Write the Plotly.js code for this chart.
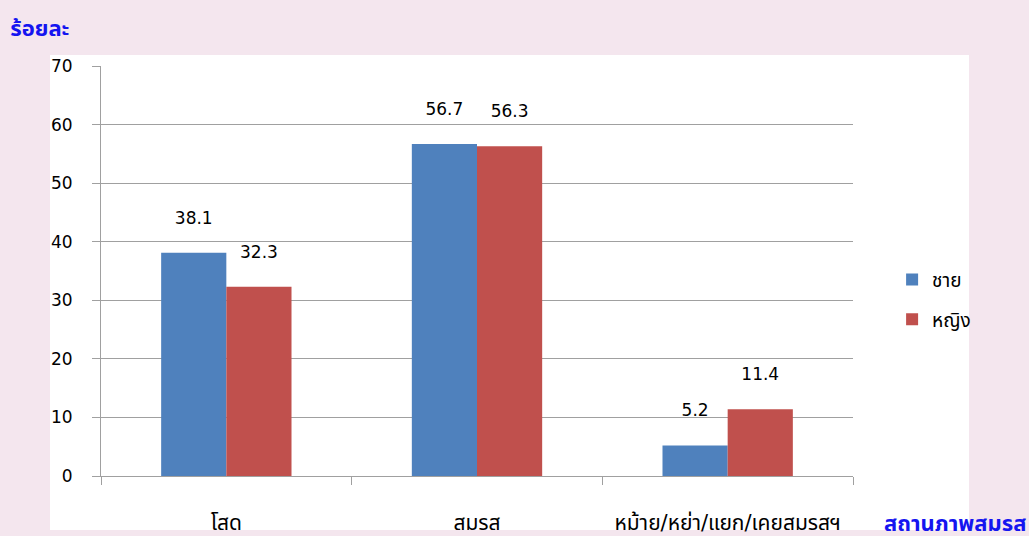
<!DOCTYPE html>
<html>
<head>
<meta charset="utf-8">
<script src="https://cdn.plot.ly/plotly-3.0.1.min.js"></script>
<style>html,body{margin:0;padding:0;background:#F4E6EE;}#chart{width:1029px;height:536px;}</style>
</head>
<body>
<div id="chart"></div>
<script>
const categories = ["โสด", "สมรส", "หม้าย/หย่า/แยก/เคยสมรสฯ"];
const maleValues = [38.1, 56.7, 5.2];
const femaleValues = [32.3, 56.3, 11.4];
const seriesNames = ["ชาย", "หญิง"];
const yTitle = "ร้อยละ";
const xTitle = "สถานภาพสมรส";

const fam = "Tahoma, 'DejaVu Sans', 'Noto Sans Thai', sans-serif";
const numFont = {family: fam, size: 17, color: "#000"};
const thaiFont = {family: fam, size: 21, color: "#000"};
const blueFont = {family: fam, size: 22, color: "#1515F0"};

function label(v) { return v.toFixed(1) + "<br> "; }

const traces = [
  {type: "bar", name: seriesNames[0], x: categories, y: maleValues, marker: {color: "#4F81BD"},
   text: maleValues.map(label), textposition: "outside", cliponaxis: false,
   textfont: numFont, legendgroup: "a", hoverinfo: "y"},
  {type: "bar", name: seriesNames[1], x: categories, y: femaleValues, marker: {color: "#C0504D"},
   text: femaleValues.map(label), textposition: "outside", cliponaxis: false,
   textfont: numFont, legendgroup: "b", hoverinfo: "y"}
];

const layout = {
  width: 1029, height: 536,
  margin: {l: 101, r: 176, t: 66, b: 60},
  paper_bgcolor: "#F4E6EE",
  plot_bgcolor: "#FFFFFF",
  barmode: "group",
  bargap: 0.48,
  bargroupgap: 0,
  showlegend: true,
  legend: {x: 1.052, y: 0.43, yanchor: "middle", xanchor: "left", traceorder: "grouped", tracegroupgap: 12,
           font: {family: fam, size: 19, color: "#000"}, bgcolor: "rgba(0,0,0,0)"},
  font: numFont,
  title: {text: "<b>" + yTitle + "</b>", x: 0.01, xanchor: "left", xref: "container", y: 0.948, yanchor: "middle", yref: "container",
          font: blueFont},
  xaxis: {type: "category", tickson: "boundaries", ticks: "outside", ticklen: 8, tickcolor: "#A0A0A0",
          showline: true, linecolor: "#A0A0A0", linewidth: 1, showgrid: false, zeroline: false,
          tickfont: thaiFont, ticklabelstandoff: 28, fixedrange: true},
  yaxis: {range: [0, 70], dtick: 10, ticks: "outside", ticklen: 8, tickcolor: "#A0A0A0",
          showline: true, linecolor: "#A0A0A0", linewidth: 1, showgrid: true, gridcolor: "#A0A0A0",
          zeroline: false, tickfont: numFont, ticklabelstandoff: 16, fixedrange: true},
  shapes: [
    {type: "rect", xref: "paper", yref: "paper", x0: -0.0678, x1: 1.1543, y0: -0.1317, y1: 1.0268,
     fillcolor: "#FFFFFF", line: {width: 0}, layer: "below"}
  ],
  annotations: [
    {xref: "paper", yref: "paper", x: 1.2327, y: -0.117, xanchor: "right", yanchor: "middle", showarrow: false,
     text: "<b>" + xTitle + "</b>", font: blueFont}
  ]
};

Plotly.newPlot("chart", traces, layout, {displayModeBar: false, staticPlot: true});
</script>
</body>
</html>
